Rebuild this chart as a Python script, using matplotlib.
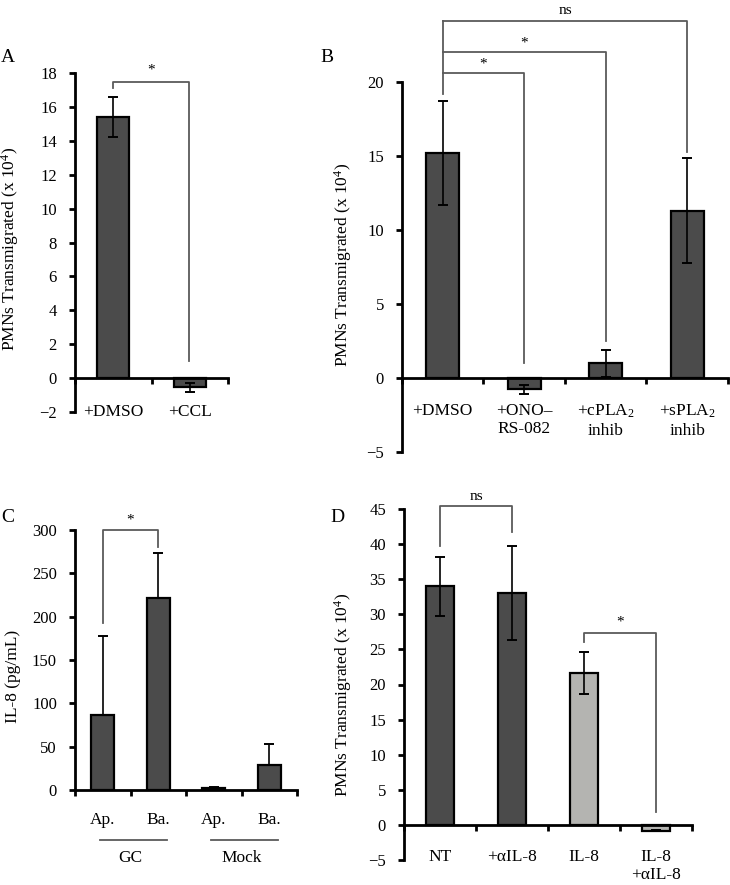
import matplotlib
matplotlib.use("Agg")
import matplotlib.pyplot as plt
import matplotlib.transforms as mtransforms

plt.rcParams['font.family'] = ['Liberation Serif', 'DejaVu Serif']
plt.rcParams['mathtext.fontset'] = 'custom'
plt.rcParams['mathtext.rm'] = 'Liberation Serif'
plt.rcParams['mathtext.it'] = 'Liberation Serif:italic'
plt.rcParams['font.size'] = 12

# ---- data ----
a_labels = ['+DMSO', '+CCL']
a_values = [15.4, -0.55]
a_errors = [1.2, 0.25]

b_labels = ['+DMSO', '+ONO–\nRS-082', '+cPLA$_2$\ninhib', '+sPLA$_2$\ninhib']
b_values = [15.2, -0.75, 1.0, 11.3]
b_errors = [3.5, 0.3, 0.9, 3.55]

c_labels = ['Ap.', 'Ba.', 'Ap.', 'Ba.']
c_groups = ['GC', 'Mock']
c_values = [86, 221, 2, 29]
c_errors = [92, 52, 1, 24]

d_labels = ['NT', '+αIL-8', 'IL-8', 'IL-8\n+αIL-8']
d_values = [34.0, 33.1, 21.6, -0.8]
d_errors = [4.2, 6.7, 3.0, 0.1]

DARK = '#4b4b4b'
LIGHT = '#b4b4b1'
d_colors = [DARK, DARK, LIGHT, LIGHT]

BR = '#5a5a5a'
XFS = 12.5
YLFS = 12.5

fig = plt.figure(figsize=(7.3, 8.85), dpi=100)


def style(ax, n, ylim, yticks, pad):
    ax.set_xlim(0, n)
    ax.set_ylim(*ylim)
    ax.set_yticks(yticks)
    for s in ['top', 'right']:
        ax.spines[s].set_visible(False)
    ax.spines['bottom'].set_position(('data', 0))
    ax.spines['left'].set_linewidth(2.0)
    ax.spines['bottom'].set_linewidth(2.0)
    ax.set_xticks(range(n + 1))
    ax.set_xticklabels([])
    ax.tick_params(axis='x', which='major', direction='out', length=4, width=2)
    ax.tick_params(axis='y', direction='out', length=4, width=2, pad=9,
                   labelsize=12)
    ax.set_xticks([i + 0.5 for i in range(n)], minor=True)
    ax.tick_params(axis='x', which='minor', length=0, pad=pad, labelsize=XFS)


def bars(ax, values, errors, colors, width, upper_only=False):
    x = [i + 0.5 for i in range(len(values))]
    ax.bar(x, values, width=width, color=colors, edgecolor='black',
           linewidth=1.6, zorder=2)
    if upper_only:
        yerr = [[0] * len(errors), errors]
    else:
        yerr = errors
    ax.errorbar(x, values, yerr=yerr, fmt='none', ecolor='black',
                elinewidth=1.2, capsize=3.5, capthick=1.4, zorder=3)


def bracket(ax, x1, x2, ytop, y1, y2, text, ty, tsize=11):
    ax.plot([x1, x1, x2, x2], [y1, ytop, ytop, y2], color=BR, lw=1.3,
            clip_on=False, zorder=4)
    ax.text((x1 + x2) / 2, ty, text, ha='center', va='center',
            fontsize=tsize, clip_on=False)


# ---- Panel A ----
axA = fig.add_axes([75 / 730, 1 - 412 / 885, 153 / 730, 339 / 885])
style(axA, 2, (-2, 18), range(-2, 19, 2), 19)
bars(axA, a_values, a_errors, DARK, 0.42)
axA.set_xticklabels(a_labels, minor=True)
axA.set_ylabel('PMNs Transmigrated (x 10$^4$)', fontsize=YLFS)
axA.yaxis.set_label_coords(-0.350, 0.48)
bracket(axA, 0.5, 1.49, 17.46, 17.1, 1.0, '*', 18.15)

# ---- Panel B ----
axB = fig.add_axes([402 / 730, 1 - 452 / 885, 326 / 730, 370 / 885])
style(axB, 4, (-5, 20), range(-5, 21, 5), 18)
bars(axB, b_values, b_errors, DARK, 0.41)
axB.set_xticklabels(b_labels, minor=True)
axB.set_ylabel('PMNs Transmigrated (x 10$^4$)', fontsize=YLFS)
axB.yaxis.set_label_coords(-0.147, 0.505)
axB.plot([0.5, 0.5], [19.2, 24.1], color=BR, lw=1.3, clip_on=False)
bracket(axB, 0.5, 3.5, 24.1, 24.1, 15.3, 'ns', 24.85)
bracket(axB, 0.5, 2.5, 22.0, 22.0, 2.5, '*', 22.6)
bracket(axB, 0.5, 1.5, 20.6, 20.6, 1.0, '*', 21.2)

# ---- Panel C ----
axC = fig.add_axes([75 / 730, 1 - 790 / 885, 222 / 730, 260 / 885])
style(axC, 4, (0, 300), range(0, 301, 50), 16)
bars(axC, c_values, c_errors, DARK, 0.42, upper_only=True)
axC.set_xticklabels(c_labels, minor=True)
axC.set_ylabel('IL-8 (pg/mL)', fontsize=YLFS)
axC.yaxis.set_label_coords(-0.241, 0.435)
bracket(axC, 0.5, 1.5, 300, 193, 280, '*', 312)
trC = mtransforms.blended_transform_factory(axC.transData, axC.transAxes)
for gi, g in enumerate(c_groups):
    x0 = gi * 2 + 0.45
    x1 = gi * 2 + 1.65
    axC.plot([x0, x1], [-0.192, -0.192], color=BR, lw=1.3, transform=trC,
             clip_on=False)
    axC.text(gi * 2 + 1.0, -0.262, g, ha='center', va='center',
             transform=trC, fontsize=XFS)

# ---- Panel D ----
axD = fig.add_axes([404 / 730, 1 - 860 / 885, 288 / 730, 351 / 885])
style(axD, 4, (-5, 45), range(-5, 46, 5), 17)
bars(axD, d_values, d_errors, d_colors, 0.39)
axD.set_xticklabels(d_labels, minor=True)
axD.set_ylabel('PMNs Transmigrated (x 10$^4$)', fontsize=YLFS)
axD.yaxis.set_label_coords(-0.174, 0.47)
bracket(axD, 0.5, 1.5, 45.4, 39.7, 41.7, 'ns', 46.8)
bracket(axD, 2.5, 3.5, 27.4, 26.0, 1.9, '*', 28.9)

# ---- panel letters ----
for lab, (px, py) in {'A': (8, 57), 'B': (327, 57), 'C': (8, 518), 'D': (337, 517)}.items():
    fig.text(px / 730, 1 - py / 885, lab, ha='center', va='center', fontsize=14)

fig.savefig('out.png', dpi=100)
